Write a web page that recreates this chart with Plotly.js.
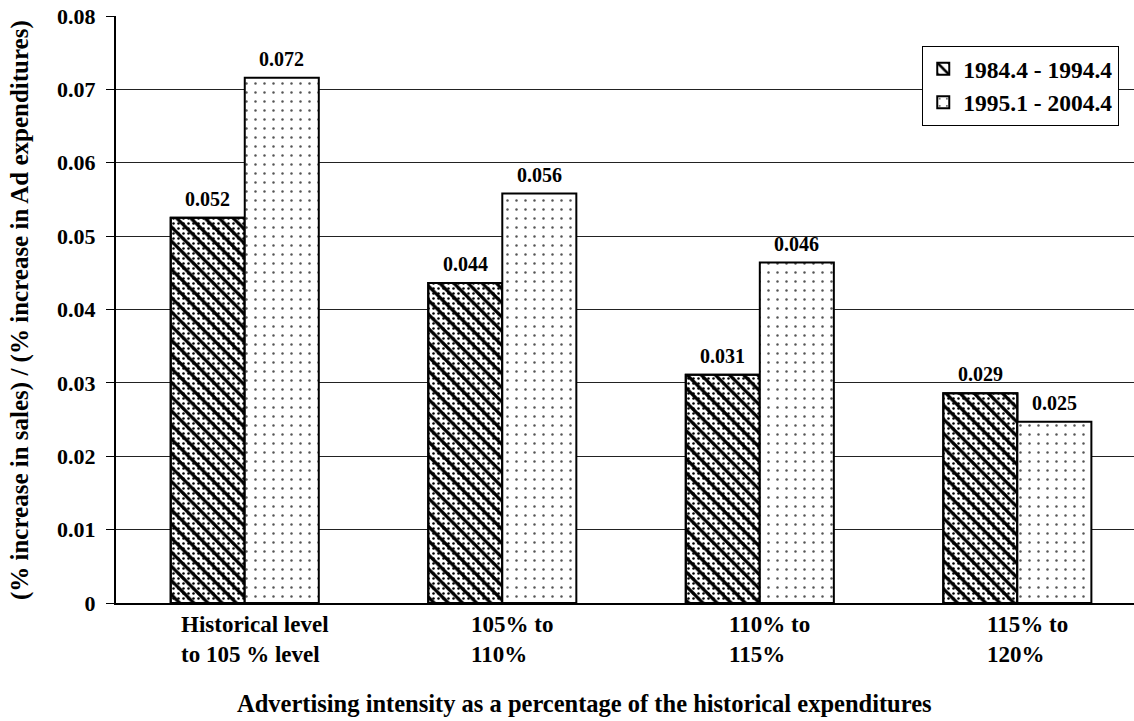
<!DOCTYPE html>
<html>
<head>
<meta charset="utf-8">
<script src="https://cdn.plot.ly/plotly-3.0.1.min.js"></script>
<style>body{margin:0;padding:0;background:#fff;}#chart{width:1134px;height:721px;}</style>
</head>
<body>
<div id="chart"></div>
<script>
var categories = ["Historical level<br>to 105 % level", "105% to<br>110%", "110% to<br>115%", "115% to<br>120%"];
var series1Name = "1984.4 - 1994.4";
var series2Name = "1995.1 - 2004.4";
var series1Values = [0.0525, 0.0436, 0.0311, 0.0286];
var series2Values = [0.0716, 0.0558, 0.0464, 0.0247];
var series1Labels = ["0.052", "0.044", "0.031", "0.029"];
var series2Labels = ["0.072", "0.056", "0.046", "0.025"];
var yTicks = [0, 0.01, 0.02, 0.03, 0.04, 0.05, 0.06, 0.07, 0.08];
var yTickLabels = ["0", "0.01", "0.02", "0.03", "0.04", "0.05", "0.06", "0.07", "0.08"];
var xTitle = "Advertising intensity as a percentage of the historical expenditures";
var yTitle = "(% increase in sales) / (% increase in Ad expenditures)";

var idx = categories.map(function(_, i){ return i; });
var font = "Liberation Serif, Times New Roman, serif";

var trace1 = {
  type: "bar", name: series1Name, x: idx, y: series1Values, offsetgroup: "a",
  marker: {color: "#fff", line: {color: "#000", width: 2},
    pattern: {shape: "\\", fgcolor: "#000", bgcolor: "#fff", size: 10, solidity: 0.32}},
  hoverinfo: "none"
};
var trace1dots = {
  type: "bar", name: series1Name, x: idx, y: series1Values, offsetgroup: "a", showlegend: false,
  marker: {color: "rgba(0,0,0,0)", line: {color: "#000", width: 2},
    pattern: {shape: ".", fgcolor: "#000", bgcolor: "rgba(0,0,0,0)", size: 5, solidity: 0.2}},
  hoverinfo: "none"
};
var trace2 = {
  type: "bar", name: series2Name, x: idx, y: series2Values, offsetgroup: "b",
  marker: {color: "#fff", line: {color: "#000", width: 2},
    pattern: {shape: ".", fgcolor: "#555", bgcolor: "#fff", size: 9, solidity: 0.06}},
  hoverinfo: "none"
};

var annotations = [];
categories.forEach(function(c, i){
  annotations.push({x: i, xref: "x", y: -0.012, yref: "paper", yanchor: "top", xanchor: "center",
    xshift: 10, text: c, align: "left", showarrow: false,
    font: {family: font, size: 23, color: "#000", weight: "bold"}});
});
series1Labels.forEach(function(t, i){
  annotations.push({x: i, xref: "x", y: series1Values[i], yref: "y", yanchor: "bottom",
    xanchor: "center", xshift: -37, yshift: 6, text: t, showarrow: false,
    font: {family: font, size: 20, color: "#000", weight: "bold"}});
});
series2Labels.forEach(function(t, i){
  annotations.push({x: i, xref: "x", y: series2Values[i], yref: "y", yanchor: "bottom",
    xanchor: "center", xshift: 37, yshift: 6, text: t, showarrow: false,
    font: {family: font, size: 20, color: "#000", weight: "bold"}});
});
annotations.push({x: 0.4607, xref: "paper", y: -0.172, yref: "paper", yanchor: "middle", xanchor: "center",
  text: xTitle, showarrow: false, font: {family: font, size: 24.5, color: "#000", weight: "bold"}});
annotations.push({x: -0.0943, xref: "paper", y: 0.499, yref: "paper", yanchor: "middle", xanchor: "center",
  textangle: -90, text: yTitle, showarrow: false,
  font: {family: font, size: 25, color: "#000", weight: "bold"}});

var layout = {
  width: 1134, height: 721,
  margin: {l: 116, r: 0, t: 16, b: 118},
  paper_bgcolor: "#fff", plot_bgcolor: "#fff",
  barmode: "group", bargap: 0.425, bargroupgap: 0,
  showlegend: true,
  legend: {x: 0.792, y: 0.949, xanchor: "left", yanchor: "top",
    bgcolor: "#fff", bordercolor: "#000", borderwidth: 1,
    font: {family: font, size: 23.5, color: "#000", weight: "bold"},
    itemwidth: 30, tracegroupgap: 0},
  xaxis: {range: [-0.5, 3.453], showticklabels: false, ticks: "",
    showline: true, linecolor: "#000", linewidth: 2, showgrid: false, zeroline: false,
    fixedrange: true},
  yaxis: {range: [0, 0.08], tickvals: yTicks, ticktext: yTickLabels,
    ticks: "outside", ticklen: 8, tickcolor: "#000", tickwidth: 1, ticklabelstandoff: 6,
    showline: true, linecolor: "#000", linewidth: 2,
    showgrid: true, gridcolor: "#222", gridwidth: 1, zeroline: false,
    tickfont: {family: font, size: 22, color: "#000", weight: "bold"}},
  annotations: annotations
};

Plotly.newPlot("chart", [trace1, trace1dots, trace2], layout, {displayModeBar: false, staticPlot: true});
</script>
</body>
</html>
